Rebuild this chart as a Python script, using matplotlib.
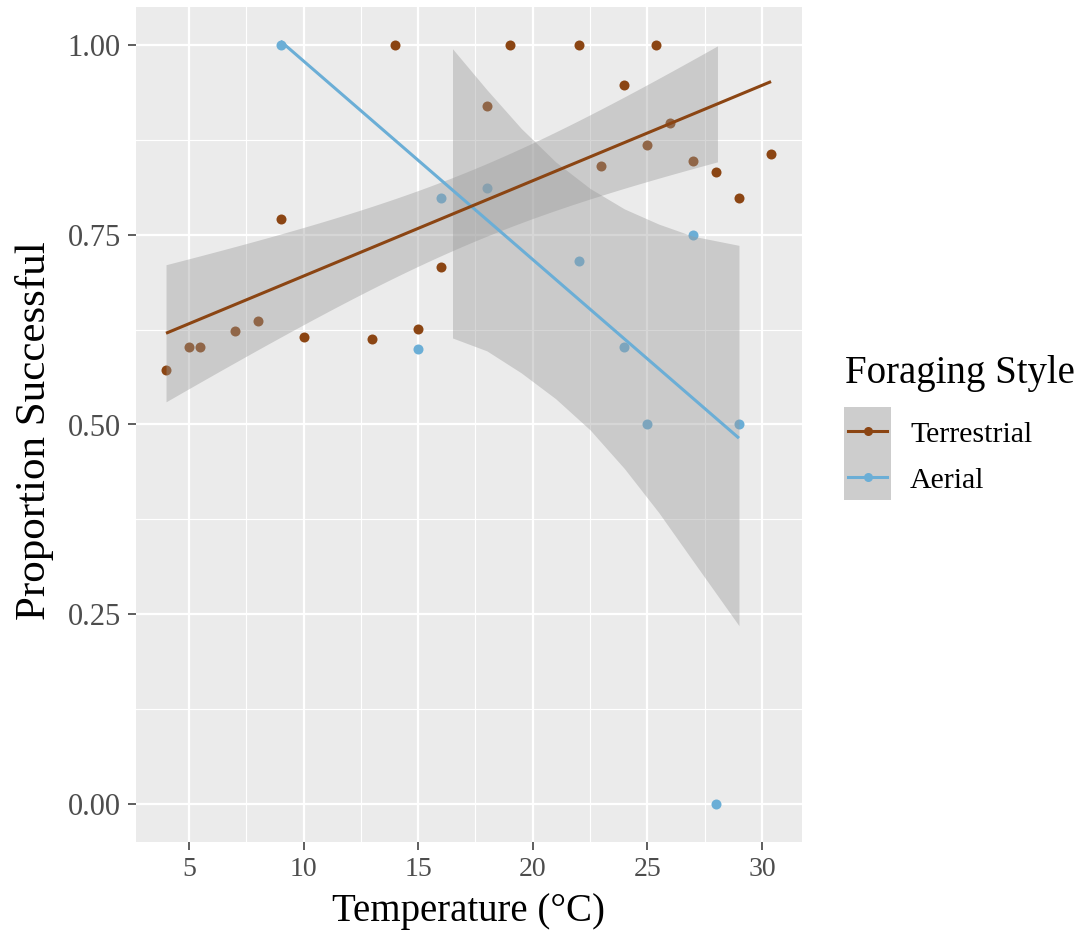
import numpy as np
import matplotlib
matplotlib.use("Agg")
import matplotlib.pyplot as plt
from matplotlib.patches import Rectangle
from matplotlib.lines import Line2D
from matplotlib.ticker import FixedLocator

plt.rcParams['font.family'] = ['Liberation Serif', 'DejaVu Serif']

# ---------------- data ----------------
styles = ["Terrestrial", "Aerial"]
style_colors = ["#8B4513", "#6BAED6"]

terr_temp = [4.0, 5.0, 5.5, 7.0, 8.0, 9.0, 10.0, 13.0, 14.0, 15.0, 16.0, 18.0,
             19.0, 22.0, 23.0, 24.0, 25.0, 25.4, 26.0, 27.0, 28.0, 29.0, 30.4]
terr_prop = [0.572, 0.602, 0.602, 0.623, 0.636, 0.771, 0.615, 0.613, 1.000, 0.626,
             0.707, 0.919, 1.000, 1.000, 0.840, 0.947, 0.868, 1.000, 0.897, 0.847,
             0.833, 0.799, 0.857]

aer_temp = [9.0, 15.0, 16.0, 18.0, 22.0, 24.0, 25.0, 27.0, 28.0, 29.0]
aer_prop = [1.000, 0.600, 0.799, 0.812, 0.715, 0.602, 0.500, 0.750, 0.000, 0.500]

# aerial fitted trend and its 95% band
aer_fit_temp = [9.0, 29.0]
aer_fit_prop = [1.005, 0.482]
aer_band_temp = [16.5, 18.0, 19.5, 21.0, 22.5, 24.0, 25.5, 27.0, 29.0]
aer_band_lo = [0.614, 0.597, 0.568, 0.534, 0.493, 0.442, 0.384, 0.320, 0.235]
aer_band_hi = [0.995, 0.941, 0.890, 0.846, 0.811, 0.784, 0.764, 0.748, 0.736]

x_ticks = [5, 10, 15, 20, 25, 30]
x_minor = [7.5, 12.5, 17.5, 22.5, 27.5]
y_ticks = [0.00, 0.25, 0.50, 0.75, 1.00]
y_minor = [0.125, 0.375, 0.625, 0.875]
y_tick_labels = ["0.00", "0.25", "0.50", "0.75", "1.00"]

x_title = "Temperature (°C)"
y_title = "Proportion Successful"
legend_title = "Foraging Style"

# ---------------- figure ----------------
W, H = 1081, 934
fig = plt.figure(figsize=(W / 100, H / 100), dpi=100)
fig.patch.set_facecolor("white")

def fx(px):
    return px / W

def fy(py):
    return 1 - py / H

ax = fig.add_axes([fx(136), fy(842), fx(802) - fx(136), fy(7) - fy(842)])
ax.set_facecolor("#EBEBEB")
for sp in ax.spines.values():
    sp.set_visible(False)
ax.set_xlim(2.69, 31.75)
ax.set_ylim(-0.05, 1.05)

ax.xaxis.set_major_locator(FixedLocator(x_ticks))
ax.xaxis.set_minor_locator(FixedLocator(x_minor))
ax.yaxis.set_major_locator(FixedLocator(y_ticks))
ax.yaxis.set_minor_locator(FixedLocator(y_minor))
ax.set_xticklabels([str(t) for t in x_ticks])
ax.set_yticklabels(y_tick_labels)
ax.grid(which="major", color="white", linewidth=1.6)
ax.grid(which="minor", color="white", linewidth=0.8)
ax.set_axisbelow(True)
ax.tick_params(which="major", length=6, width=1.1, color="#333333",
               labelcolor="#4D4D4D", pad=5)
ax.tick_params(axis="x", which="major", labelsize=20)
ax.tick_params(axis="y", which="major", labelsize=22)
ax.tick_params(which="minor", length=0)

# points (drawn beneath the ribbons, as in the original)
ax.scatter(terr_temp, terr_prop, s=52, color=style_colors[0], zorder=2, linewidths=0)
ax.scatter(aer_temp, aer_prop, s=52, color=style_colors[1], zorder=2, linewidths=0)

# terrestrial linear fit with 95% confidence band
tx = np.array(terr_temp)
ty = np.array(terr_prop)
n = len(tx)
b1, b0 = np.polyfit(tx, ty, 1)
grid = np.linspace(tx.min(), tx.max(), 80)
fit = b0 + b1 * grid
resid = ty - (b0 + b1 * tx)
s = np.sqrt(np.sum(resid ** 2) / (n - 2))
se = s * np.sqrt(1 / n + (grid - tx.mean()) ** 2 / np.sum((tx - tx.mean()) ** 2))
t975 = 2.0796  # Student t quantile, df = n - 2 = 21
lo = fit - t975 * se
hi = fit + t975 * se
inside = (lo >= 0) & (hi <= 1)
ax.fill_between(grid, lo, hi, where=inside, color="#999999", alpha=0.4,
                linewidth=0, zorder=3)

# aerial band
ax.fill_between(aer_band_temp, aer_band_lo, aer_band_hi, color="#999999",
                alpha=0.4, linewidth=0, zorder=3)

# lines
ax.plot(aer_fit_temp, aer_fit_prop, color=style_colors[1], lw=2.2, zorder=4,
        solid_capstyle="butt")
ax.plot(grid, fit, color=style_colors[0], lw=2.2, zorder=5, solid_capstyle="butt")

# axis titles
fig.text(fx(469), fy(911), x_title, ha="center", va="center", fontsize=28,
         color="black")
fig.text(fx(35), fy(431), y_title, ha="center", va="center", fontsize=31,
         rotation=90, color="black")

# legend (drawn by hand to mimic ggplot)
fig.text(fx(845), fy(383), legend_title, ha="left", va="baseline", fontsize=28,
         color="black")
fig.patches.append(Rectangle((fx(844), fy(500)), fx(891) - fx(844), fy(407) - fy(500),
                             transform=fig.transFigure, facecolor="#CDCDCD",
                             edgecolor="none"))
key_y = [431, 477]
for lab, col, ky in zip(styles, style_colors, key_y):
    fig.lines.append(Line2D([fx(848), fx(887)], [fy(ky), fy(ky)],
                            transform=fig.transFigure, color=col, lw=2.2))
    fig.lines.append(Line2D([fx(867.5)], [fy(ky)], transform=fig.transFigure,
                            color=col, marker="o", markersize=6.5, lw=0,
                            markeredgewidth=0))
    fig.text(fx(910), fy(ky + 11), lab, ha="left", va="baseline", fontsize=21.5,
             color="black")

fig.savefig("out.png", dpi=100, facecolor="white")
